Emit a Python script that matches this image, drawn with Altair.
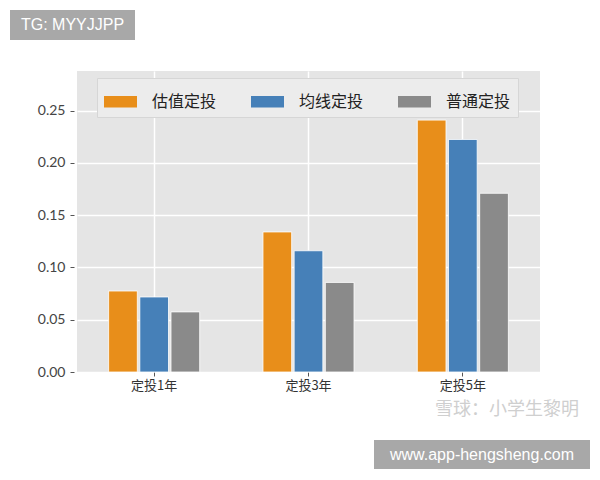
import altair as alt
import pandas as pd

groups = ["定投1年", "定投3年", "定投5年"]
series = ["估值定投", "均线定投", "普通定投"]
val_guzhi = [0.0775, 0.134, 0.241]
val_junxian = [0.0718, 0.116, 0.2225]
val_putong = [0.0575, 0.0857, 0.171]
colors = ["#E88E1A", "#4680B8", "#8A8A8A"]
y_ticks = [0.0, 0.05, 0.10, 0.15, 0.20, 0.25]

watermark_tg = "TG: MYYJJPP"
watermark_site = "www.app-hengsheng.com"
watermark_xq = "雪球：小学生黎明"

rows = []
for s, vals in zip(series, [val_guzhi, val_junxian, val_putong]):
    for g, v in zip(groups, vals):
        rows.append({"group": g, "series": s, "value": v})
df = pd.DataFrame(rows)

CJK = "Noto Sans CJK SC"

bars = alt.Chart(df).mark_bar(stroke="white", strokeWidth=1, strokeOpacity=0.8).encode(
    x=alt.X(
        "group:N", sort=groups,
        scale=alt.Scale(paddingInner=0.41, paddingOuter=0.205),
        axis=alt.Axis(title=None, labelAngle=0, bandPosition=0.5, grid=True,
                      gridColor="white", gridWidth=1.5, domain=False,
                      tickColor="#555555", tickSize=4, labelPadding=3,
                      labelFont=CJK, labelFontSize=13, labelColor="#333333"),
    ),
    xOffset=alt.XOffset("series:N", sort=series, scale=alt.Scale(paddingInner=0.08)),
    y=alt.Y(
        "value:Q",
        scale=alt.Scale(domain=[0, 0.288], nice=False),
        axis=alt.Axis(title=None, values=y_ticks, format=".2f", grid=True,
                      gridColor="white", gridWidth=1.5, domain=False,
                      tickColor="#555555", tickSize=4, offset=3, labelPadding=5,
                      labelFont="Lato", labelFontSize=14, labelColor="#444444"),
    ),
    color=alt.Color(
        "series:N", sort=series,
        scale=alt.Scale(domain=series, range=colors),
        legend=alt.Legend(
            title=None, orient="none", legendX=20, legendY=7, direction="horizontal",
            fillColor="#ececec", strokeColor="#d6d6d6", padding=7,
            symbolType="M-1,-0.35H1V0.35H-1Z", symbolSize=1089, symbolStrokeWidth=0,
            labelFont=CJK, labelFontSize=16, labelColor="#222222", labelOffset=15,
            columnPadding=34, labelLimit=0,
        ),
    ),
)

tg_bg = alt.Chart(alt.Data(values=[{"t": watermark_tg}])).mark_rect(color="#a8a8a8").encode(
    x=alt.value(-67), x2=alt.value(58), y=alt.value(-61), y2=alt.value(-31))
tg_text = alt.Chart(alt.Data(values=[{"t": watermark_tg}])).mark_text(
    color="white", fontSize=16, font="Liberation Sans", align="center", baseline="middle").encode(
    x=alt.value(-4.5), y=alt.value(-46), text="t:N")

site_bg = alt.Chart(alt.Data(values=[{"t": watermark_site}])).mark_rect(color="#a8a8a8").encode(
    x=alt.value(297), x2=alt.value(513), y=alt.value(369), y2=alt.value(398))
site_text = alt.Chart(alt.Data(values=[{"t": watermark_site}])).mark_text(
    color="white", fontSize=16, font="Liberation Sans", align="center", baseline="middle").encode(
    x=alt.value(405), y=alt.value(384), text="t:N")

xq_text = alt.Chart(alt.Data(values=[{"t": watermark_xq}])).mark_text(
    color="#cfcfcf", fontSize=18, font=CJK, align="center", baseline="middle").encode(
    x=alt.value(430), y=alt.value(339), text="t:N")

chart = alt.layer(bars, tg_bg, tg_text, site_bg, site_text, xq_text).properties(
    width=463, height=301,
    autosize=alt.AutoSizeParams(type="none"),
    padding={"left": 69, "top": 63, "right": 52, "bottom": 100},
    background="white",
).configure_view(fill="#e5e5e5", strokeWidth=0)

chart.save("out.html", embed_options={"renderer": "svg", "actions": False})
